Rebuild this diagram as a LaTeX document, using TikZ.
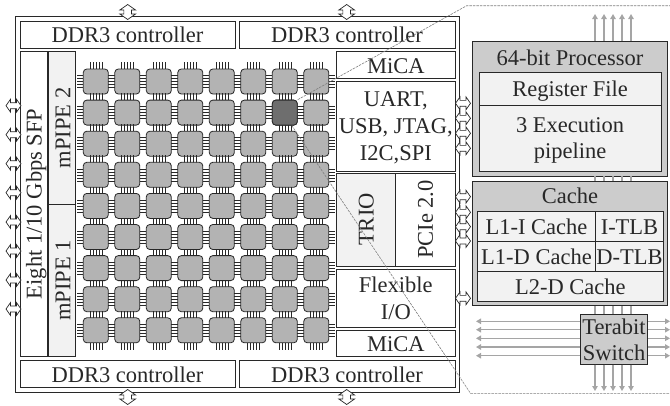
\documentclass[tikz,border=0pt]{standalone}
\usepackage{fontspec}
\setmainfont{Liberation Serif}
\usetikzlibrary{arrows.meta,positioning,shapes.arrows}
\definecolor{inkgray}{RGB}{40,40,40}
\definecolor{coregray}{RGB}{179,179,179}
\definecolor{hotgray}{RGB}{110,110,110}
\definecolor{panelgray}{RGB}{204,204,204}
\definecolor{palegray}{RGB}{242,242,242}
\definecolor{busgray}{RGB}{165,165,165}
\tikzset{
  block/.style={draw=inkgray,line width=.8pt,inner sep=0pt,align=center,text=inkgray,text depth=0pt,
    font=\fontsize{22.5}{27}\selectfont},
  ddrblock/.style={block,minimum height=27pt},
  sideblock/.style={block,minimum width=118.3pt},
  lowtext/.style={text height=17pt},
  core/.style={draw=inkgray,line width=.8pt,fill=coregray,rounded corners=3.5pt,minimum size=25pt,inner sep=0pt},
  pin/.style={draw=inkgray,line width=.5pt},
  port/.style={draw=inkgray,line width=.7pt,fill=white,shape=double arrow,inner xsep=0pt,inner ysep=2.6pt,
    double arrow tip angle=110,double arrow head extend=3.4pt,minimum height=15pt},
  vport/.style={port,rotate=90,inner ysep=3.5pt,double arrow head extend=4pt},
  bus/.style={draw=busgray,line width=1.2pt},
  busarrow/.style={bus,-{Triangle[length=5pt,width=5.5pt]}},
  zoomline/.style={draw=gray,line width=.6pt,dash pattern=on 2.5pt off 1pt},
}
\begin{document}
\begin{tikzpicture}[x=1pt,y=-1pt]
  \useasboundingbox (0,0) rectangle (670,405);
  % chip frame
  \node[draw=inkgray,line width=1pt,minimum width=443.5pt,minimum height=376pt,inner sep=0pt] (chip) at (237.25,204) {};
  \node[ddrblock,minimum width=215pt] (ddrtl) at (127.5,34.5) {DDR3 controller};
  \node[ddrblock,minimum width=216pt] (ddrtr) at (347,34.5) {DDR3 controller};
  \node[ddrblock,minimum width=215pt] (ddrbl) at (127.5,374.2) {DDR3 controller};
  \node[ddrblock,minimum width=216pt] (ddrbr) at (347,374.2) {DDR3 controller};
  % left side
  \node[block,rotate=90,minimum width=305.7pt,minimum height=27.7pt] (sfp) at (33.9,203.9) {Eight 1/10 Gbps SFP};
  \node[block,rotate=90,lowtext,fill=palegray,minimum width=153.5pt,minimum height=27.7pt] (mpipetwo) at (61.8,127.75) {mPIPE 2};
  \node[block,rotate=90,lowtext,fill=palegray,minimum width=152.2pt,minimum height=27.7pt] (mpipeone) at (61.8,280.6) {mPIPE 1};
  % right side
  \node[sideblock,lowtext,minimum height=27.7pt] (micatop) at (395.85,64.85) {MiCA};
  \node[sideblock,minimum height=90.7pt] (uart) at (395.85,126.35) {UART,\\USB, JTAG,\\I2C,SPI};
  \node[block,rotate=90,fill=palegray,minimum width=93pt,minimum height=59pt] (trio) at (366.2,219.5) {TRIO};
  \node[block,rotate=90,minimum width=93pt,minimum height=59.3pt] (pcie) at (425.35,219.5) {PCIe 2.0};
  \node[sideblock,minimum height=58.3pt] (flexio) at (395.85,298.15) {Flexible\\I/O};
  \node[sideblock,lowtext,minimum height=26.7pt] (micabot) at (395.85,343.35) {MiCA};
  % core grid
  \foreach \r in {0,...,8}
    \foreach \c in {0,...,7} {
      \node[core] (core-\r-\c) at (95.8+31.5*\c,81.5+31.1*\r) {};
      \foreach \p in {-6,-3,0,3,6} {
        \draw[pin] ([xshift=\p pt]core-\r-\c.north) -- ++(0,-6.5);
        \draw[pin] ([xshift=\p pt]core-\r-\c.south) -- ++(0,6.5);
        \draw[pin] ([yshift=\p pt]core-\r-\c.west) -- ++(-6,0);
        \draw[pin] ([yshift=\p pt]core-\r-\c.east) -- ++(6,0);
      }
    }
  \node[core,fill=hotgray] (hotcore) at (core-1-6) {};
  % chip ports
  \foreach \x/\n in {127.7/a,346.7/b} {
    \node[vport] (porttop\n) at (\x,12) {};
    \node[vport] (portbot\n) at (\x,397) {};
  }
  \foreach \y [count=\i] in {105.7,134.7,163.7,192.7,222,251,280,309}
    \node[port] (portleft\i) at (13.5,\y) {};
  \foreach \y [count=\i] in {103.3,118.3,133.3,148.3,196.7,212.3,226.7,241,298.3}
    \node[port] (portright\i) at (463,\y) {};
  % processor
  \node[block,fill=panelgray,minimum width=195.4pt,minimum height=135pt] (proc) at (570,108.5) {};
  \node[text=inkgray,font=\fontsize{22.5}{27}\selectfont,inner sep=0pt] (proctitle) at (570,57.5) {64-bit Processor};
  \node[block,fill=palegray,minimum width=181.7pt,minimum height=33pt] (regfile) at (570.15,88.5) {Register File};
  \node[block,fill=palegray,minimum width=181.7pt,minimum height=66.7pt] (pipeline) at (570.15,138.35) {3 Execution\\[-1pt]pipeline};
  % cache
  \node[block,fill=panelgray,minimum width=195.4pt,minimum height=124.7pt] (cache) at (570,243.35) {};
  \node[text=inkgray,font=\fontsize{22.5}{27}\selectfont,inner sep=0pt] (cachetitle) at (570,195.5) {Cache};
  \node[block,lowtext,fill=palegray,minimum width=118.4pt,minimum height=30pt] (lonei) at (536.5,226.3) {L1-I Cache};
  \node[block,lowtext,fill=palegray,minimum width=67.6pt,minimum height=30pt] (itlb) at (629.5,226.3) {I-TLB};
  \node[block,lowtext,fill=palegray,minimum width=118.4pt,minimum height=30pt] (loned) at (536.5,256.3) {L1-D Cache};
  \node[block,lowtext,fill=palegray,minimum width=67.6pt,minimum height=30pt] (dtlb) at (629.5,256.3) {D-TLB};
  \node[block,lowtext,fill=palegray,minimum width=186pt,minimum height=29.7pt] (ltwo) at (570.3,286.15) {L2-D Cache};
  % switch and its buses
  \node[block,fill=panelgray,minimum width=67.4pt,minimum height=50pt,font=\fontsize{22.5}{26}\selectfont] (switch) at (614,339.3) {Terabit\\Switch};
  \coordinate (northtip) at (0,14);
  \coordinate (southtip) at (0,391);
  \coordinate (westtip) at (476,0);
  \coordinate (easttip) at (670,0);
  \foreach \x in {595,604,613,622,631} {
    \draw[busarrow] (\x,0 |- proc.north) -- (\x,0 |- northtip);
    \draw[bus] (\x,0 |- proc.south) -- (\x,0 |- cache.north);
    \draw[bus] (\x,0 |- cache.south) -- (\x,0 |- switch.north);
    \draw[busarrow] (\x,0 |- switch.south) -- (\x,0 |- southtip);
  }
  \foreach \y in {321.3,329.7,338.3,347,355.7} {
    \draw[busarrow] (switch.west |- 0,\y) -- (westtip |- 0,\y);
    \draw[busarrow] (switch.east |- 0,\y) -- (easttip |- 0,\y);
  }
  % zoom lines
  \coordinate (zoomtop) at (466.7,5.7);
  \coordinate (zoomtopend) at (670,5.7);
  \coordinate (zoombot) at (470.7,393.6);
  \coordinate (zoombotend) at (670,393.6);
  \draw[zoomline] (hotcore.north east) -- (zoomtop) -- (zoomtopend);
  \draw[zoomline] ([xshift=7pt]hotcore.south) -- (zoombot) -- (zoombotend);
\end{tikzpicture}
\end{document}
